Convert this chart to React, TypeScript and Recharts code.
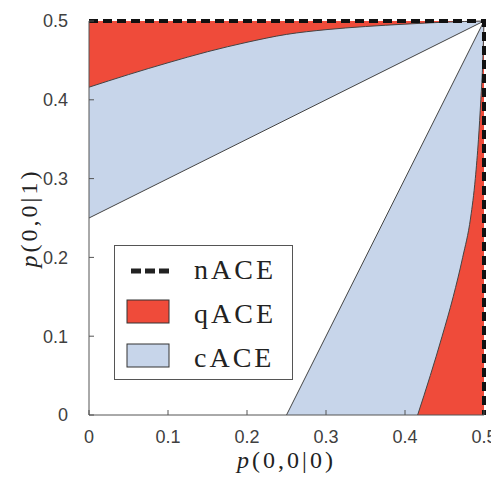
import { ComposedChart, Area, Line, XAxis, YAxis, Legend } from "recharts"

const axisTicks = [0, 0.1, 0.2, 0.3, 0.4, 0.5]

// qACE / cACE boundary, read along p(0,0|0) (the other one is its mirror)
const qEdgeX = [0, 0.05, 0.1, 0.15, 0.2, 0.25, 0.3, 0.35, 0.4, 0.45, 0.5]
const qEdgeY = [0.416, 0.432, 0.447, 0.461, 0.473, 0.483, 0.489, 0.493, 0.496, 0.4985, 0.5]

// straight cACE boundary
const cEdgeX = [0, 0.5]
const cEdgeY = [0.25, 0.5]

// nACE runs along the top and right edges
const nX = [0, 0.5, 0.5]
const nY = [0.5, 0.5, 0]

const legendNames = ["nACE", "qACE", "cACE"]

const RED = "#ef4b3a"
const BLUE = "#c7d5ea"
const EDGE = "#444"

const qTop = qEdgeX.map((x, i) => ({ x, lo: qEdgeY[i], hi: 0.5 }))
const qRight = qEdgeY.map((x, i) => ({ x, lo: 0, hi: qEdgeX[i] }))
const cTop = cEdgeX.map((x, i) => ({ x, lo: cEdgeY[i], hi: 0.5 }))
const cRight = cEdgeY.map((x, i) => ({ x, lo: 0, hi: cEdgeX[i] }))
const nData = nX.map((x, i) => ({ x, y: nY[i] }))

const range = (d: any) => [d.lo, d.hi]

function XTick(props: any) {
  const { x, y, payload } = props
  return (
    <g>
      <line x1={x} x2={x} y1={y} y2={y - 5} stroke="#555" />
      <text x={x} y={y + 28} textAnchor="middle" fontSize={18} fill="#404040" fontFamily="Liberation Sans, Arial">
        {payload.value}
      </text>
    </g>
  )
}

function YTick(props: any) {
  const { x, y, payload } = props
  return (
    <g>
      <line x1={x} x2={x + 5} y1={y} y2={y} stroke="#555" />
      <text x={x - 21} y={y} dy="0.36em" textAnchor="end" fontSize={18} fill="#404040" fontFamily="Liberation Sans, Arial">
        {payload.value}
      </text>
    </g>
  )
}

function XLabel(props: any) {
  const { x, y, width } = props.viewBox
  return (
    <text x={x + width / 2} y={y + 53} textAnchor="middle" fontSize={24} letterSpacing={3} fill="#222" fontFamily="Liberation Serif, serif">
      <tspan fontStyle="italic">p</tspan>(0,0|0)
    </text>
  )
}

function YLabel(props: any) {
  const { x, y, height } = props.viewBox
  const cx = x + 8
  const cy = y + height / 2
  return (
    <text x={cx} y={cy} transform={`rotate(-90 ${cx} ${cy})`} textAnchor="middle" fontSize={24} letterSpacing={3} fill="#222" fontFamily="Liberation Serif, serif">
      <tspan fontStyle="italic">p</tspan>(0,0|1)
    </text>
  )
}

function LegendBox() {
  return (
    <div style={{ width: 177, height: 133, border: "1px solid #555", background: "#fff" }}>
      <svg width={177} height={133}>
        <line x1={16} x2={54} y1={25} y2={25} stroke="#222" strokeWidth={5} strokeDasharray="10 4" />
        <rect x={12} y={54} width={42} height={23} fill={RED} stroke="#333" />
        <rect x={12} y={98} width={42} height={23} fill={BLUE} stroke="#333" />
        {legendNames.map((name, i) => (
          <text key={name} x={79} y={33 + i * 44} fontSize={28} letterSpacing={3} fill="#222" fontFamily="Liberation Serif, serif">
            {name}
          </text>
        ))}
      </svg>
    </div>
  )
}

export default function App() {
  return (
    <ComposedChart width={491} height={471} margin={{ top: 13, right: 15, bottom: 34, left: 21 }} style={{ overflow: "visible" }}>
      <XAxis
        type="number"
        dataKey="x"
        domain={[0, 0.5]}
        ticks={axisTicks}
        interval={0}
        tickSize={0}
        tickMargin={0}
        tick={<XTick />}
        height={30}
        stroke="#555"
        label={<XLabel />}
      />
      <YAxis
        type="number"
        domain={[0, 0.5]}
        ticks={axisTicks}
        interval={0}
        tickSize={0}
        tickMargin={0}
        tick={<YTick />}
        width={60}
        stroke="#555"
        label={<YLabel />}
      />
      <Area data={cTop} dataKey={range} type="linear" fill={BLUE} fillOpacity={1} stroke="none" isAnimationActive={false} />
      <Area data={cRight} dataKey={range} type="linear" fill={BLUE} fillOpacity={1} stroke="none" isAnimationActive={false} />
      <Area data={qTop} dataKey={range} type="monotone" fill={RED} fillOpacity={1} stroke="none" isAnimationActive={false} />
      <Area data={qRight} dataKey={range} type="monotone" fill={RED} fillOpacity={1} stroke="none" isAnimationActive={false} />
      <Line data={cTop} dataKey="lo" type="linear" stroke={EDGE} strokeWidth={1} dot={false} isAnimationActive={false} />
      <Line data={cRight} dataKey="hi" type="linear" stroke={EDGE} strokeWidth={1} dot={false} isAnimationActive={false} />
      <Line data={qTop} dataKey="lo" type="monotone" stroke={EDGE} strokeWidth={1} dot={false} isAnimationActive={false} />
      <Line data={qRight} dataKey="hi" type="monotone" stroke={EDGE} strokeWidth={1} dot={false} isAnimationActive={false} />
      <Line data={nData} dataKey="y" type="linear" stroke="#111" strokeWidth={4} strokeDasharray="9 5" dot={false} isAnimationActive={false} />
      <Legend
        layout="vertical"
        align="center"
        verticalAlign="middle"
        content={() => <LegendBox />}
        wrapperStyle={{ left: 106, top: 237, width: 179, height: 135 }}
      />
    </ComposedChart>
  )
}
